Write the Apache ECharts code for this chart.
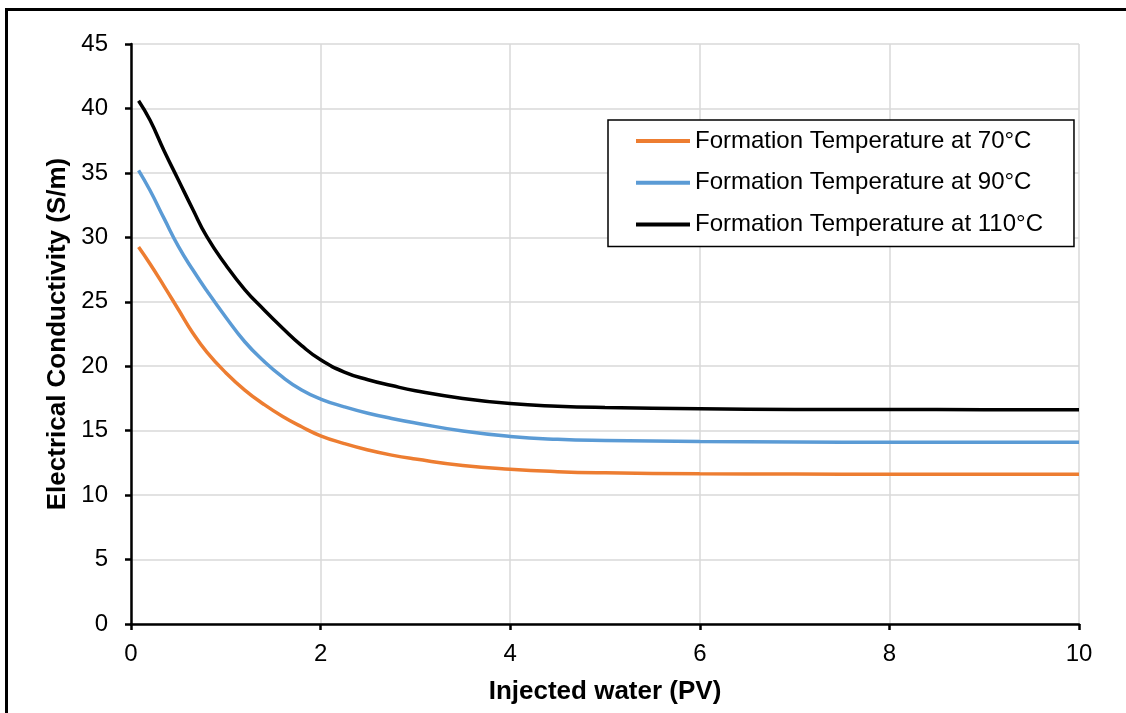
<!DOCTYPE html>
<html>
<head>
<meta charset="utf-8">
<script src="https://cdn.jsdelivr.net/npm/echarts@6/dist/echarts.min.js"></script>
<style>
  html, body { margin: 0; padding: 0; background: #fff; }
  #chart { width: 1126px; height: 713px; position: absolute; left: 0; top: 0; }
  #frame { position: absolute; left: 5px; top: 8px; width: 1121px; height: 705px;
           border-left: 3px solid #000; border-top: 3px solid #000; box-sizing: border-box; pointer-events: none; }
</style>
</head>
<body>
<div id="chart"></div>
<div id="frame"></div>
<script>
// Injected water (PV)
const injectedPV = [0.08, 0.2, 0.35, 0.5, 0.65, 0.8, 1.0, 1.2, 1.4, 1.6, 1.8, 2.0, 2.25, 2.5, 2.75, 3.0, 3.5, 4.0, 4.5, 5.0, 6.0, 7.0, 8.0, 9.0, 10.0];
// Electrical conductivity (S/m)
const temp70  = [29.25, 27.95, 26.2, 24.4, 22.6, 21.1, 19.5, 18.15, 17.05, 16.1, 15.3, 14.6, 14.0, 13.5, 13.1, 12.8, 12.3, 12.0, 11.82, 11.73, 11.65, 11.63, 11.62, 11.62, 11.62];
const temp90  = [35.2, 33.65, 31.45, 29.3, 27.5, 25.85, 23.8, 21.9, 20.4, 19.15, 18.15, 17.45, 16.85, 16.35, 15.95, 15.6, 14.97, 14.55, 14.33, 14.24, 14.16, 14.12, 14.1, 14.1, 14.1];
const temp110 = [40.6, 39.1, 36.7, 34.45, 32.2, 30.05, 27.85, 25.95, 24.4, 22.95, 21.6, 20.5, 19.55, 18.95, 18.5, 18.1, 17.5, 17.1, 16.9, 16.8, 16.7, 16.65, 16.64, 16.63, 16.63];
const seriesNames = ['Formation Temperature at 70°C', 'Formation Temperature at 90°C', 'Formation Temperature at 110°C'];
const seriesColors = ['#ed7d31', '#5b9bd5', '#000000'];

const pairs = ys => injectedPV.map((x, i) => [x, ys[i]]);
const font = 'Liberation Sans, Arial, sans-serif';

const chart = echarts.init(document.getElementById('chart'), null, { renderer: 'canvas' });
chart.setOption({
  animation: false,
  backgroundColor: '#fff',
  textStyle: { fontFamily: font },
  grid: { left: 131, right: 47, top: 44, bottom: 89, containLabel: false },
  xAxis: {
    type: 'value', min: 0, max: 10, interval: 2,
    name: 'Injected water (PV)', nameLocation: 'middle', nameGap: 55,
    nameTextStyle: { fontFamily: font, fontSize: 26, fontWeight: 'bold', color: '#000' },
    axisLine: { show: true, lineStyle: { color: '#000', width: 2.5 } },
    axisTick: { show: true, length: 6, lineStyle: { color: '#000', width: 2.5 } },
    axisLabel: { fontFamily: font, fontSize: 24, color: '#000', margin: 18 },
    splitLine: { show: true, lineStyle: { color: '#d9d9d9', width: 1.5 } }
  },
  yAxis: {
    type: 'value', min: 0, max: 45, interval: 5,
    name: 'Electrical Conductivity (S/m)', nameLocation: 'middle', nameGap: 60,
    nameTextStyle: { fontFamily: font, fontSize: 26, fontWeight: 'bold', color: '#000' },
    axisLine: { show: true, lineStyle: { color: '#000', width: 2.5 } },
    axisTick: { show: true, length: 6, lineStyle: { color: '#000', width: 2.5 } },
    axisLabel: { fontFamily: font, fontSize: 24, color: '#000', margin: 23 },
    splitLine: { show: true, lineStyle: { color: '#d9d9d9', width: 1.5 } }
  },
  legend: {
    orient: 'vertical', left: 608, top: 120,
    padding: [9, 31, 10, 28],
    itemGap: 17.7, itemWidth: 54, itemHeight: 4, icon: 'rect',
    borderColor: '#000', borderWidth: 1.5,
    backgroundColor: '#fff',
    textStyle: { fontFamily: font, fontSize: 24, color: '#000', lineHeight: 24 },
    data: seriesNames
  },
  series: [temp70, temp90, temp110].map((ys, i) => ({
    name: seriesNames[i], type: 'line', data: pairs(ys), smooth: 0.5,
    showSymbol: false, symbol: 'none',
    lineStyle: { color: seriesColors[i], width: 3.5 },
    itemStyle: { color: seriesColors[i] }
  }))
});
</script>
</body>
</html>
